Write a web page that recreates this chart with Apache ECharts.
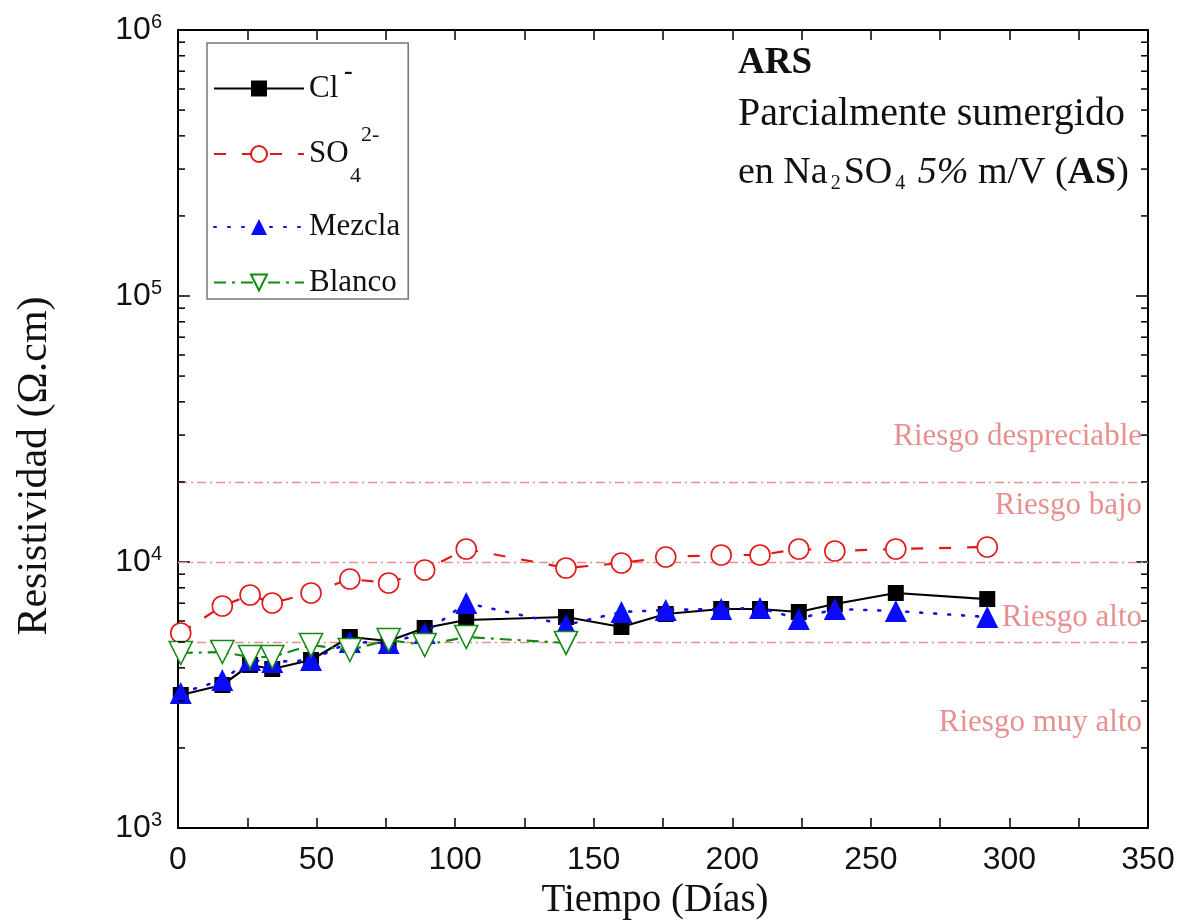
<!DOCTYPE html>
<html>
<head>
<meta charset="utf-8">
<script src="https://cdn.jsdelivr.net/npm/echarts@6/dist/echarts.min.js"></script>
<style>
html,body{margin:0;padding:0;background:#fff;}
#chart{width:1187px;height:922px;}
</style>
</head>
<body>
<div id="chart"></div>
<script>
// ---- data ----
const daysAll = [1, 16, 26, 34, 48, 62, 76, 89, 104, 140, 160, 176, 196, 210, 224, 237, 259, 292];
const clValues = [3162, 3448, 4101, 3961, 4281, 5224, 5047, 5649, 6053, 6212, 5697, 6375, 6658, 6658, 6486, 6952, 7647, 7256];
const so4Values = [5410, 6833, 7515, 7013, 7647, 8630, 8337, 9331, 11190, 9494, 9913, 10440, 10625, 10625, 11190, 11000, 11190, 11385];
const mezclaValues = [3217, 3601, 4281, 4207, 4281, 5004, 4961, 5410, 7013, 5798, 6486, 6600, 6658, 6716, 6107, 6658, 6543, 6212];
const daysBlanco = [1, 16, 26, 34, 48, 62, 76, 89, 104, 140];
const blancoValues = [4549, 4588, 4394, 4394, 4875, 4668, 5091, 4875, 5224, 4961];
const riskThresholds = [5000, 10000, 20000];
const riskLabels = ['Riesgo despreciable', 'Riesgo bajo', 'Riesgo alto', 'Riesgo muy alto'];
const xTicks = [0, 50, 100, 150, 200, 250, 300, 350];
const yDecades = [1000, 10000, 100000, 1000000];
const yMinorTicks = [];
for (let d = 0; d < yDecades.length - 1; d++) {
  for (let m = 2; m <= 9; m++) yMinorTicks.push(yDecades[d] * m);
}
const X_MIN = 0, X_MAX = 350, Y_MIN = 1000, Y_MAX = 1000000;

const pair = (xs, ys) => xs.map((x, i) => [x, ys[i]]);

const SERIF = '"Liberation Serif", "Times New Roman", serif';
const SANS = '"Liberation Sans", Arial, sans-serif';
const RISK_COLOR = '#e89090';
const TXT = '#111';

const chart = echarts.init(document.getElementById('chart'), null, {renderer: 'canvas'});

const baseAxisX = {
  type: 'value', min: X_MIN, max: X_MAX, interval: 50,
  axisLine: {show: true, onZero: false, lineStyle: {color: '#000', width: 2}},
  axisTick: {show: true, inside: true, length: 10, lineStyle: {color: '#000', width: 1.5}},
  minorTick: {show: true, splitNumber: 2, length: 10, lineStyle: {color: '#000', width: 1.5}},
  splitLine: {show: false}, minorSplitLine: {show: false}
};
const baseAxisY = {
  type: 'log', logBase: 10, min: Y_MIN, max: Y_MAX,
  axisLine: {show: true, onZero: false, lineStyle: {color: '#000', width: 2}},
  axisTick: {show: true, inside: true, length: 12, lineStyle: {color: '#000', width: 1.5}},
  splitLine: {show: false}
};

const option = {
  backgroundColor: '#fff',
  animation: false,
  grid: {left: 178, right: 39, top: 30, bottom: 94, containLabel: false, outerBoundsMode: 'none'},
  xAxis: [
    Object.assign({}, baseAxisX, {
      position: 'bottom',
      name: 'Tiempo (Días)', nameLocation: 'middle', nameGap: 53,
      nameTextStyle: {fontFamily: SERIF, fontSize: 39, color: TXT, padding: [0, 16, 0, 0]},
      axisLabel: {show: true, margin: 16, fontFamily: SANS, fontSize: 32, color: TXT,
        customValues: xTicks}
    }),
    Object.assign({}, baseAxisX, {position: 'top', axisLabel: {show: false}})
  ],
  yAxis: [
    Object.assign({}, baseAxisY, {
      position: 'left',
      name: 'Resistividad (Ω.cm)', nameLocation: 'middle', nameGap: 122, nameRotate: 90,
      nameTextStyle: {fontFamily: SERIF, fontSize: 42, color: TXT, padding: [0, 74, 0, 0]},
      axisLabel: {
        show: true, margin: 16,
        formatter: function (v) {
          const e = Math.round(Math.log10(v));
          return '{b|10}{s|' + e + '}';
        },
        rich: {
          b: {fontFamily: SANS, fontSize: 32, color: TXT, lineHeight: 36, verticalAlign: 'middle'},
          s: {fontFamily: SANS, fontSize: 20, color: TXT, lineHeight: 20, padding: [0, 0, 40, 0], verticalAlign: 'top'}
        }
      }
    }),
    Object.assign({}, baseAxisY, {position: 'right', axisLabel: {show: false}})
  ],
  legend: {
    orient: 'vertical', left: 207, top: 43,
    backgroundColor: '#fff', borderColor: '#777', borderWidth: 1.5,
    padding: [30, 8, 1, 6], itemGap: 17,
    itemWidth: 90, itemHeight: 20,
    data: [
      {name: 'Cl'},
      {name: 'SO4', textStyle: {lineHeight: 66}},
      {name: 'Mezcla', textStyle: {lineHeight: 46}},
      {name: 'Blanco'}
    ],
    formatter: function (name) {
      return name === 'SO4' ? 'SO' : name;
    },
    textStyle: {fontFamily: SERIF, fontSize: 31, color: TXT, lineHeight: 30}
  },
  graphic: [
    // superscripts / subscripts of legend labels
    {type: 'text', left: 344, top: 59, z: 100, style: {text: '-', font: 'bold 26px ' + SERIF, fill: TXT}},
    {type: 'text', left: 350, top: 165, z: 100, style: {text: '4', font: '22px ' + SERIF, fill: TXT}},
    {type: 'text', left: 361, top: 124, z: 100, style: {text: '2-', font: '22px ' + SERIF, fill: TXT}},
    // annotation block
    {type: 'text', left: 738, top: 45, z: 100, style: {
      text: 'ARS', font: 'bold 37px ' + SERIF, fill: TXT}},
    {type: 'text', left: 738, top: 94, z: 100, style: {
      text: 'Parcialmente sumergido', font: '40px ' + SERIF, fill: TXT}},
    {type: 'text', left: 738, top: 144, z: 100, style: {
      text: '{t|en Na}{sub|2}{t|SO}{sub|4}{t| }{i|5%}{t| m/V (}{b|AS}{t|)}',
      rich: {
        t: {fontFamily: SERIF, fontSize: 38, fill: TXT, lineHeight: 40, verticalAlign: 'top'},
        i: {fontFamily: SERIF, fontSize: 38, fontStyle: 'italic', fill: TXT, lineHeight: 40, verticalAlign: 'top'},
        b: {fontFamily: SERIF, fontSize: 38, fontWeight: 'bold', fill: TXT, lineHeight: 40, verticalAlign: 'top'},
        sub: {fontFamily: SERIF, fontSize: 20, fill: TXT, lineHeight: 20, padding: [30, 3, 0, 3], verticalAlign: 'bottom'}
      }}},
    // risk zone labels
    {type: 'text', right: 45, top: 421, z: 100, style: {text: riskLabels[0], font: '31px ' + SERIF, fill: RISK_COLOR}},
    {type: 'text', right: 45, top: 490, z: 100, style: {text: riskLabels[1], font: '31px ' + SERIF, fill: RISK_COLOR}},
    {type: 'text', right: 45, top: 602, z: 100, style: {text: riskLabels[2], font: '31px ' + SERIF, fill: RISK_COLOR}},
    {type: 'text', right: 45, top: 707, z: 100, style: {text: riskLabels[3], font: '31px ' + SERIF, fill: RISK_COLOR}}
  ],
  series: [
    {
      name: 'Cl', type: 'line', data: pair(daysAll, clValues),
      symbol: 'rect', symbolSize: 16, z: 5,
      lineStyle: {color: '#000', width: 2.2, type: 'solid'},
      itemStyle: {color: '#000'},
      markLine: {
        silent: true, symbol: 'none', label: {show: false}, z: 1,
        lineStyle: {color: RISK_COLOR, width: 1.3, type: [9, 4, 2, 4]},
        data: riskThresholds.map(v => ({yAxis: v}))
      }
    },
    {
      name: 'SO4', type: 'line', data: pair(daysAll, so4Values),
      symbol: 'circle', symbolSize: 20, z: 4,
      lineStyle: {color: '#e01818', width: 2.2, type: [12, 16]},
      itemStyle: {color: '#fff', borderColor: '#e01818', borderWidth: 1.6}
    },
    {
      name: 'Mezcla', type: 'line', data: pair(daysAll, mezclaValues),
      symbol: 'triangle', symbolSize: 22, z: 6,
      lineStyle: {color: '#1010e0', width: 2.6, type: [2, 12], cap: 'round'},
      itemStyle: {color: '#0a0aff'}
    },
    {
      name: 'Blanco', type: 'line', data: pair(daysBlanco, blancoValues),
      symbol: 'triangle', symbolRotate: 180, symbolSize: 23, z: 7,
      lineStyle: {color: '#148a14', width: 2.2, type: [12, 6, 3, 6]},
      itemStyle: {color: '#fff', borderColor: '#148a14', borderWidth: 1.6}
    },
    {
      name: 'minorTicksY', type: 'custom', silent: true, z: 10,
      data: yMinorTicks.map(v => [X_MIN, v]),
      encode: {x: 0, y: 1},
      clip: false,
      renderItem: function (params, api) {
        const v = api.value(1);
        const pl = api.coord([X_MIN, v]);
        const pr = api.coord([X_MAX, v]);
        const st = {stroke: '#000', lineWidth: 1.5};
        return {type: 'group', children: [
          {type: 'line', shape: {x1: pl[0], y1: pl[1], x2: pl[0] + 7, y2: pl[1]}, style: st},
          {type: 'line', shape: {x1: pr[0] - 7, y1: pr[1], x2: pr[0], y2: pr[1]}, style: st}
        ]};
      }
    }
  ]
};
chart.setOption(option);
</script>
</body>
</html>
